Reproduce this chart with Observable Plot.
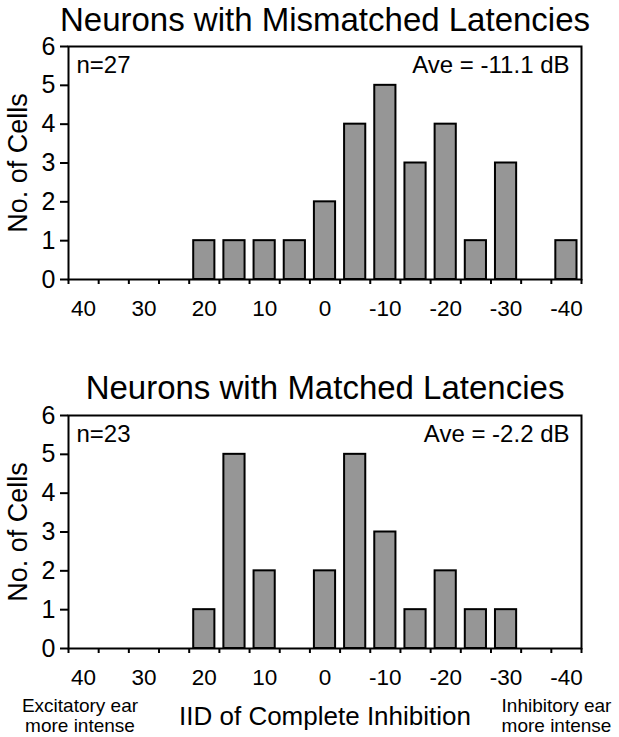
<!DOCTYPE html>
<html><head><meta charset="utf-8">
<script src="https://cdn.jsdelivr.net/npm/d3@7"></script>
<script src="https://cdn.jsdelivr.net/npm/@observablehq/plot@0.6"></script>
<style>
body{margin:0;background:#fff}
#wrap{position:relative;width:619px;height:737px;background:#fff}
#wrap svg{position:absolute;left:0}
</style>
</head><body><div id="wrap"></div>
<script>
// IID bin centers (dB), bins 5 dB wide
const binCenters = [40, 35, 30, 25, 20, 15, 10, 5, 0, -5, -10, -15, -20, -25, -30, -35, -40];
const mismatchedCounts = [0, 0, 0, 0, 1, 1, 1, 1, 2, 4, 5, 3, 4, 1, 3, 0, 1];
const matchedCounts    = [0, 0, 0, 0, 1, 5, 2, 0, 2, 5, 3, 1, 2, 1, 1, 0, 0];
const xTickLabels = [40, 30, 20, 10, 0, -10, -20, -30, -40];
const yTicks = [0, 1, 2, 3, 4, 5, 6];
const titles = ["Neurons with Mismatched Latencies", "Neurons with Matched Latencies"];
const nLabels = ["n=27", "n=23"];
const aveLabels = ["Ave = -11.1 dB", "Ave = -2.2 dB"];
const yLabel = "No. of Cells";
const xLabel = "IID of Complete Inhibition";
const leftNote = "Excitatory ear\nmore intense";
const rightNote = "Inhibitory ear\nmore intense";

const binWidth = 5;
const edges = binCenters.map(c => c + binWidth / 2).concat([binCenters[binCenters.length - 1] - binWidth / 2]);
const FONT = "'Liberation Sans', Arial, Helvetica, sans-serif";

function chart(counts, i, opts) {
  const data = binCenters.map((c, k) => ({c, n: counts[k]})).filter(d => d.n > 0);
  const marks = [
    Plot.rectY(data, {x1: d => d.c + binWidth / 2, x2: d => d.c - binWidth / 2, y: "n",
      insetLeft: 4.5, insetRight: 4.5, fill: "#969696", stroke: "black", strokeWidth: 2}),
    Plot.frame({stroke: "black", strokeWidth: 2}),
    Plot.axisY({ticks: yTicks, tickSize: 8, tickPadding: 5, fontSize: 25, strokeWidth: 2, label: null, tickFormat: d => String(d)}),
    Plot.axisX({ticks: edges, tickSize: 5, tickFormat: () => "", strokeWidth: 2, label: null}),
    Plot.axisX({ticks: xTickLabels, tickSize: 0, tickPadding: 21, fontSize: 22.5, label: null, tickFormat: d => String(d)}),
    Plot.text([titles[i]], {frameAnchor: "top", text: d => d, fontSize: 33, dy: opts.titleDy, lineAnchor: "middle"}),
    Plot.text([nLabels[i]], {frameAnchor: "top-left", text: d => d, fontSize: 24, dx: 8, dy: 9, textAnchor: "start", lineAnchor: "top"}),
    Plot.text([aveLabels[i]], {frameAnchor: "top-right", text: d => d, fontSize: 24, dx: -12, dy: 9, textAnchor: "end", lineAnchor: "top"}),
    Plot.text([yLabel], {frameAnchor: "left", text: d => d, fontSize: 27, rotate: -90, dx: -50, textAnchor: "middle", lineAnchor: "middle"})
  ];
  if (opts.bottom) {
    marks.push(
      Plot.text([xLabel], {frameAnchor: "bottom", text: d => d, fontSize: 26, dy: 58.5, lineAnchor: "top"}),
      Plot.text([leftNote], {frameAnchor: "bottom-left", text: d => d, fontSize: 19, dx: 11.5, dy: 49.5, lineAnchor: "top", textAnchor: "middle", lineHeight: 1.05}),
      Plot.text([rightNote], {frameAnchor: "bottom-right", text: d => d, fontSize: 19, dx: -25, dy: 49.5, lineAnchor: "top", textAnchor: "middle", lineHeight: 1.05})
    );
  }
  return Plot.plot({
    width: 619,
    height: opts.height,
    marginLeft: 68,
    marginRight: 38,
    marginTop: opts.marginTop,
    marginBottom: opts.marginBottom,
    style: {fontFamily: FONT, fontSize: "21px", color: "black", background: "white", overflow: "visible"},
    x: {type: "linear", domain: [edges[0], edges[edges.length - 1]], label: null},
    y: {domain: [0, 6], label: null},
    marks
  });
}

const wrap = document.getElementById("wrap");
const top1 = chart(mismatchedCounts, 0, {height: 350, marginTop: 46, marginBottom: 71, titleDy: -26.5});
top1.style.top = "0px";
wrap.appendChild(top1);
const bot = chart(matchedCounts, 1, {height: 382, marginTop: 60, marginBottom: 89, titleDy: -27.5, bottom: true});
bot.style.top = "355px";
wrap.appendChild(bot);
</script>
</body></html>
